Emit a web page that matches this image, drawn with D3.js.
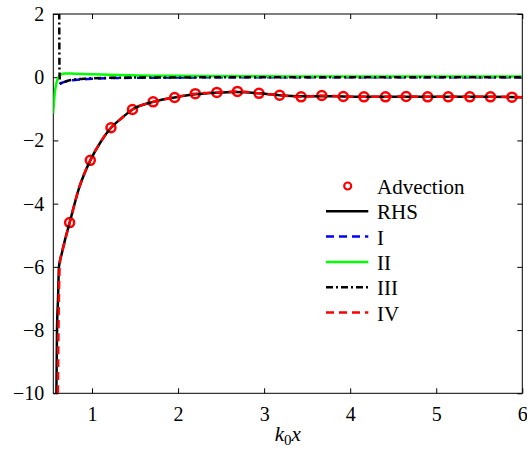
<!DOCTYPE html>
<html>
<head>
<meta charset="utf-8">
<script src="https://cdn.jsdelivr.net/npm/d3@7"></script>
<style>
  body { margin: 0; background: #fff; }
  svg { display: block; }
  text { font-family: "Liberation Serif", "DejaVu Serif", serif; fill: #000; }
</style>
</head>
<body>
<svg id="chart" width="527" height="457"></svg>
<script>
// --- Données ---
const xTicks = [1, 2, 3, 4, 5, 6];
const yTicks = [-10, -8, -6, -4, -2, 0, 2];

const advX = [0.74, 0.98, 1.22, 1.47, 1.71, 1.96, 2.2, 2.45, 2.69, 2.94, 3.18, 3.43, 3.67, 3.92, 4.16, 4.41, 4.65, 4.9, 5.14, 5.39, 5.63, 5.88];
const advY = [-4.6, -2.63, -1.6, -1.02, -0.78, -0.64, -0.52, -0.48, -0.45, -0.51, -0.57, -0.62, -0.58, -0.61, -0.62, -0.62, -0.61, -0.62, -0.62, -0.62, -0.62, -0.63];

const rhsX = [0.586, 0.593, 0.605, 0.616, 0.644, 0.69, 0.74, 0.85, 0.98, 1.1, 1.22, 1.35, 1.47, 1.71, 1.96, 2.2, 2.45, 2.69, 2.94, 3.18, 3.43, 3.67, 3.92, 4.16, 4.5, 5, 5.5, 6];
const rhsY = [-10, -8, -7, -6, -5.63, -5.1, -4.6, -3.5, -2.63, -2.05, -1.6, -1.28, -1.02, -0.78, -0.64, -0.54, -0.49, -0.47, -0.51, -0.57, -0.6, -0.6, -0.61, -0.62, -0.62, -0.62, -0.62, -0.63];

const iX = [0.625, 0.65, 0.7, 0.8, 0.95, 1.2, 1.6, 2.2, 3, 6];
const iY = [-0.22, -0.18, -0.13, -0.09, -0.06, -0.03, -0.015, -0.005, 0, 0];

const iiX = [0.548, 0.567, 0.585, 0.605, 0.64, 0.68, 0.8, 1, 1.3, 1.7, 2.2, 3, 4, 5, 6];
const iiY = [-1.15, -0.5, -0.2, -0.03, 0.09, 0.12, 0.11, 0.09, 0.07, 0.05, 0.04, 0.03, 0.02, 0.02, 0.02];

const iiiX = [0.618, 0.622, 0.63, 0.66, 0.72, 0.8, 0.95, 1.2, 1.6, 2.2, 3, 4.5, 6];
const iiiY = [3, 0.2, -0.18, -0.17, -0.11, -0.07, -0.04, -0.02, -0.01, -0.005, 0, 0, 0];

const ivX = [0.603, 0.61, 0.62, 0.63, 0.66, 0.74, 0.85, 0.98, 1.1, 1.22, 1.35, 1.47, 1.71, 1.96, 2.2, 2.45, 2.69, 2.94, 3.18, 3.43, 3.67, 3.92, 4.16, 4.41, 4.65, 4.9, 5.14, 5.39, 5.63, 6];
const ivY = [-10, -8, -6.3, -5.8, -5.45, -4.6, -3.5, -2.63, -2.05, -1.6, -1.28, -1.02, -0.78, -0.64, -0.52, -0.48, -0.45, -0.51, -0.57, -0.62, -0.58, -0.61, -0.62, -0.62, -0.61, -0.62, -0.62, -0.62, -0.62, -0.63];

const zip = (xs, ys) => xs.map((x, i) => [x, ys[i]]);

// --- Constantes ---
const margin = {top: 14, right: 4.7, bottom: 63.7, left: 53.3},
    width = 527 - margin.left - margin.right,
    height = 457 - margin.top - margin.bottom;

const svg = d3.select("#chart");
const g = svg.append("g")
    .attr("transform", "translate(" + margin.left + "," + margin.top + ")");

const x = d3.scaleLinear().domain([0.55, 6]).range([0, width]);
const y = d3.scaleLinear().domain([-10, 2]).range([height, 0]);

g.append("clipPath").attr("id", "clip")
    .append("rect").attr("width", width).attr("height", height);

// --- Axes (ticks vers l'intérieur, sur les 4 côtés) ---
const fmt = d3.format("d");
const axB = g.append("g").attr("transform", "translate(0," + height + ")")
    .call(d3.axisBottom(x).tickValues(xTicks).tickFormat(fmt).tickSizeInner(-5).tickSizeOuter(0).tickPadding(14));
const axT = g.append("g")
    .call(d3.axisTop(x).tickValues(xTicks).tickFormat("").tickSizeInner(-5).tickSizeOuter(0));
const axL = g.append("g")
    .call(d3.axisLeft(y).tickValues(yTicks).tickFormat(fmt).tickSizeInner(-5).tickSizeOuter(0).tickPadding(9));
const axR = g.append("g").attr("transform", "translate(" + width + ",0)")
    .call(d3.axisRight(y).tickValues(yTicks).tickFormat("").tickSizeInner(-5).tickSizeOuter(0));

[axB, axT, axL, axR].forEach(a => {
    a.select(".domain").remove();
    a.selectAll("line").attr("stroke", "#000");
});
g.selectAll(".tick text").style("font-size", "20px").style("font-family", '"Liberation Serif", serif');

g.append("rect")
    .attr("width", width).attr("height", height)
    .attr("fill", "none").attr("stroke", "#000").attr("stroke-width", 1);

// --- Courbes ---
const line = d3.line()
    .x(d => x(d[0]))
    .y(d => y(d[1]))
    .curve(d3.curveMonotoneX);

const plot = g.append("g").attr("clip-path", "url(#clip)");

// Advection (marqueurs)
plot.selectAll("circle.adv")
    .data(zip(advX, advY))
    .enter()
    .append("circle")
    .attr("class", "adv")
    .attr("cx", d => x(d[0]))
    .attr("cy", d => y(d[1]))
    .attr("r", 4.5)
    .attr("fill", "none")
    .attr("stroke", "#ff0000")
    .attr("stroke-width", 2.5);

const series = [
    {name: "RHS", data: zip(rhsX, rhsY), color: "#000", dash: null},
    {name: "I", data: zip(iX, iY), color: "#0000ff", dash: "8,5"},
    {name: "II", data: zip(iiX, iiY), color: "#00ff00", dash: null},
    {name: "III", data: zip(iiiX, iiiY), color: "#000", dash: "7,3,2,3"},
    {name: "IV", data: zip(ivX, ivY), color: "#ff0000", dash: "8,5"}
];

series.forEach(s => {
    plot.append("path")
        .attr("d", line(s.data))
        .attr("fill", "none")
        .attr("stroke", s.color)
        .attr("stroke-width", 2.5)
        .attr("stroke-dasharray", s.dash);
});

// --- Légende ---
const legX1 = 326 - margin.left, legX2 = 368.3 - margin.left, legT = 377 - margin.left;
const rowBase = 194 - margin.top, rowStep = 25.3;
const leg = g.append("g");

leg.append("circle")
    .attr("cx", 347.7 - margin.left).attr("cy", rowBase - 8)
    .attr("r", 3.5).attr("fill", "none").attr("stroke", "#ff0000").attr("stroke-width", 2.2);
leg.append("text").attr("x", legT).attr("y", rowBase).style("font-size", "21px").text("Advection");

series.forEach((s, i) => {
    const yb = rowBase + (i + 1) * rowStep;
    leg.append("line")
        .attr("x1", legX1).attr("x2", legX2)
        .attr("y1", yb - 8).attr("y2", yb - 8)
        .attr("stroke", s.color).attr("stroke-width", 2.5)
        .attr("stroke-dasharray", s.dash);
    leg.append("text").attr("x", legT).attr("y", yb).style("font-size", "21px").text(s.name);
});

// --- Titre de l'axe x ---
const xl = svg.append("text")
    .attr("x", margin.left + width / 2)
    .attr("y", 441)
    .attr("text-anchor", "middle")
    .style("font-size", "21px");
xl.append("tspan").style("font-style", "italic").text("k");
xl.append("tspan").attr("dy", 4).style("font-size", "15px").text("0");
xl.append("tspan").attr("dy", -4).style("font-style", "italic").text("x");
</script>
</body>
</html>
